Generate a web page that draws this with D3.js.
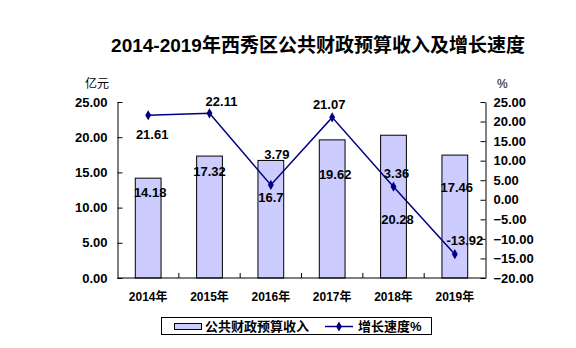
<!DOCTYPE html>
<html><head><meta charset="utf-8">
<script src="https://cdn.jsdelivr.net/npm/d3@7"></script>
<style>
body{margin:0;background:#fff;}
text{font-family:"Liberation Sans",Arial,"Noto Sans CJK SC",sans-serif;}
</style></head>
<body><svg id="c" width="576" height="348"></svg>
<script>
const years = ["2014年","2015年","2016年","2017年","2018年","2019年"];
const revenue = [14.18, 17.32, 16.7, 19.62, 20.28, 17.46];
const growth = [21.61, 22.11, 3.79, 21.07, 3.36, -13.92];
const leftTicks = [0,5,10,15,20,25];
const rightTicks = [-20,-15,-10,-5,0,5,10,15,20,25];
// label nudges (px) – layout only
const barLabelOffset = [[2,14],[0,15],[0,37],[3,34],[4,84],[2,32]];
const lineLabelOffset = [[4,19],[12,-12],[6,-31],[-3,-13],[3,-13],[10,-14]];

const svg = d3.select("#c");
const L = 117.5, R = 485.5, T = 102, B = 278;
const x = d3.scaleBand().domain(years).range([L,R]).paddingInner(0.58).paddingOuter(0.29);
const xc = d3.scaleBand().domain(years).range([L,R]);
const yL = d3.scaleLinear().domain([0,25]).range([B,T]);
const yR = d3.scaleLinear().domain([-20,25]).range([B,T]);
const navy = "#000080";

// title
svg.append("text").attr("x",318).attr("y",52).attr("text-anchor","middle")
  .style("font-size","19px").style("font-weight","bold").text("2014-2019年西秀区公共财政预算收入及增长速度");
svg.append("text").attr("x",85).attr("y",88).style("font-size","12px").text("亿元");
svg.append("text").attr("x",497).attr("y",88).style("font-size","12px").text("%");

// bars
svg.selectAll("rect.bar").data(revenue).enter().append("rect")
  .attr("x",(d,i)=>x(years[i])).attr("width",x.bandwidth())
  .attr("y",d=>yL(d)).attr("height",d=>B-yL(d))
  .attr("fill","#CCCCFF").attr("stroke","#000").attr("stroke-width",1);

// axes
const axL = svg.append("g").attr("transform",`translate(${L},0)`)
  .call(d3.axisLeft(yL).tickValues(leftTicks).tickFormat(d3.format(".2f")).tickSizeInner(-5).tickSizeOuter(0).tickPadding(10));
const axR = svg.append("g").attr("transform",`translate(${R},0)`)
  .call(d3.axisRight(yR).tickValues(rightTicks).tickFormat(d3.format(".2f")).tickSizeInner(-5).tickSizeOuter(0).tickPadding(8));
[axL,axR].forEach(a=>{
  a.selectAll("text").style("font-size","13px").style("font-weight","bold").attr("fill","#000")
    .style("font-family","'Liberation Sans',Arial,sans-serif");
  a.selectAll("line,path").attr("stroke","#000");
});
// x axis
svg.append("line").attr("x1",L).attr("x2",R).attr("y1",B).attr("y2",B).attr("stroke","#000");
svg.selectAll("line.xt").data(years.slice(1)).enter().append("line")
  .attr("x1",d=>xc(d)).attr("x2",d=>xc(d)).attr("y1",B).attr("y2",B-5).attr("stroke","#000");
svg.selectAll("text.xl").data(years).enter().append("text")
  .attr("x",d=>xc(d)+xc.bandwidth()/2).attr("y",301).attr("text-anchor","middle")
  .style("font-size","12px").style("font-weight","bold").text(d=>d);

// line
const cx = i => xc(years[i]) + xc.bandwidth()/2;
const line = d3.line().x((d,i)=>cx(i)).y(d=>yR(d));
svg.append("path").datum(growth).attr("d",line).attr("fill","none").attr("stroke",navy).attr("stroke-width",1.5);
svg.selectAll("path.mk").data(growth).enter().append("path")
  .attr("d",d3.symbol().type(d3.symbolDiamond).size(30))
  .attr("transform",(d,i)=>`translate(${cx(i)},${yR(d)})`).attr("fill",navy);

// labels
svg.selectAll("text.bl").data(revenue).enter().append("text")
  .attr("x",(d,i)=>cx(i)+barLabelOffset[i][0]).attr("y",(d,i)=>yL(d)+barLabelOffset[i][1])
  .attr("dy","0.36em").attr("text-anchor","middle")
  .style("font-size","13px").style("font-weight","bold").text(d=>d);
svg.selectAll("text.ll").data(growth).enter().append("text")
  .attr("x",(d,i)=>cx(i)+lineLabelOffset[i][0]).attr("y",(d,i)=>yR(d)+lineLabelOffset[i][1])
  .attr("dy","0.36em").attr("text-anchor","middle")
  .style("font-size","13px").style("font-weight","bold").text(d=>d);

// legend
const lg = svg.append("g");
lg.append("rect").attr("x",161.5).attr("y",317.5).attr("width",270).attr("height",17)
  .attr("fill","#fff").attr("stroke","#000");
lg.append("rect").attr("x",174.5).attr("y",323.5).attr("width",27).attr("height",6)
  .attr("fill","#CCCCFF").attr("stroke","#000");
lg.append("text").attr("x",205).attr("y",331).style("font-size","13px").style("font-weight","bold").text("公共财政预算收入");
lg.append("line").attr("x1",325).attr("x2",353).attr("y1",326.5).attr("y2",326.5).attr("stroke",navy).attr("stroke-width",1.5);
lg.append("path").attr("d",d3.symbol().type(d3.symbolDiamond).size(30)).attr("transform","translate(339,326.5)").attr("fill",navy);
lg.append("text").attr("x",358).attr("y",331).style("font-size","13px").style("font-weight","bold").text("增长速度%");
</script></body></html>
